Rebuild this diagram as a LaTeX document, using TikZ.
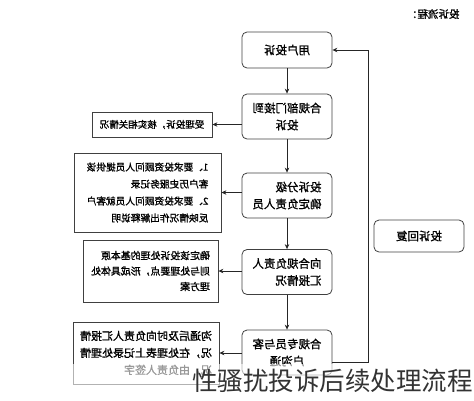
\documentclass[tikz,border=0pt]{standalone}
\usepackage{fontspec}
\setmainfont{Noto Sans CJK SC}[BoldFont=Noto Sans CJK SC, BoldFeatures={FakeBold=1.2}]
\usetikzlibrary{arrows.meta}

\tikzset{
  stepbox/.style={draw=black!75, line width=0.8pt, rounded corners=5pt,
    minimum width=90pt, minimum height=45pt, inner sep=3pt,
    font=\fontsize{11.5}{17}\selectfont\bfseries},
  notebox/.style={draw=black!75, line width=0.8pt, align=left, inner sep=4pt,
    font=\fontsize{9.7}{17}\selectfont\bfseries},
  flow/.style={draw=black!85, line width=0.7pt, -{Stealth[length=5pt,width=4.5pt]}},
}

\begin{document}
\begin{tikzpicture}[x=1pt,y=-1pt]
  \useasboundingbox (0,0) rectangle (474,400);

  % the chart is printed mirrored
  \begin{scope}[shift={(474,0)}, xscale=-1, every node/.append style={transform shape}]
    \node[anchor=west, font=\fontsize{10.5}{12}\selectfont\bfseries] (title) at (11,14) {投诉流程：};

    \node[stepbox, minimum height=36pt] (b1) at (187,50) {用户投诉};
    \node[stepbox, align=center] (b2) at (187,116.5) {合规部门接到\\投诉};
    \node[stepbox, align=left] (b3) at (187,195.5) {投诉分级\\确定负责人员};
    \node[stepbox, align=left] (b4) at (187,272) {向合规负责人\\汇报情况};
    \node[stepbox, align=center] (b5) at (187,352.5) {合规专员与客\\户沟通};

    \node[stepbox, minimum height=32pt] (reply) at (55,236) {投诉回复};

    \node[notebox, align=center, minimum width=120pt, minimum height=25pt,
      font=\fontsize{9.5}{12}\selectfont\bfseries] (sa) at (322,124.5) {受理投诉，核实相关情况};
    \node[notebox, minimum width=147pt, minimum height=79pt] (sb) at (326.5,192.5)
      {1、要求投资顾问人员提供该\\客户历史服务记录\\2、要求投资顾问人员就客户\\反映情况作出解释说明};
    \node[notebox, minimum width=135pt, minimum height=62pt,
      font=\fontsize{9.9}{15.5}\selectfont\bfseries] (sc) at (323.5,271)
      {确定该投诉处理的基本原\\则与处理要点，形成具体处\\理方案};
    \node[notebox, minimum width=146pt, minimum height=62pt,
      font=\fontsize{11}{17}\selectfont\bfseries] (sd) at (328,353)
      {沟通后及时向负责人汇报情\\况，在处理表上记录处理情\\况，由负责人签字};

    \draw[flow] (b1) -- (b2);
    \draw[flow] (b2) -- (b3);
    \draw[flow] (b3) -- (b4);
    \draw[flow] (b4) -- (b5);

    \draw[flow] (b2.east |- sa) -- (sa.west);
    \draw[flow] (b3.east |- sb) -- (sb.west);
    \draw[flow] (b4.east |- sc) -- (sc.west);
    \draw[flow] (b5.east |- sd) -- (sd.west);

    \coordinate (turn) at (106,362);
    \draw[flow] (b5.west |- turn) -- (turn) |- (b1.west);
  \end{scope}

  \fill[white, opacity=0.6] (0,364) rectangle (474,400);
  \node[font=\fontsize{25.5}{27}\selectfont, text=black!80] (caption) at (332.5,381)
    {性骚扰投诉后续处理流程};
\end{tikzpicture}
\end{document}
